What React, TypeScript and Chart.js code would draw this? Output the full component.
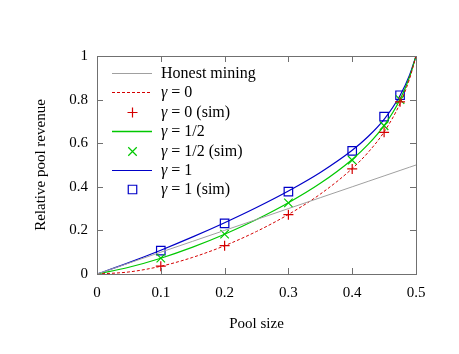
import React, { useEffect, useRef } from "react";
import { Chart, registerables } from "chart.js";

Chart.register(...registerables);

// Pool size (alpha) samples for the analytic curves
const alphaGrid = [0, 0.05, 0.1, 0.15, 0.2, 0.25, 0.3, 0.35, 0.4, 0.425, 0.45, 0.475, 0.49, 0.5];
const honestY = [0, 0.05, 0.1, 0.15, 0.2, 0.25, 0.3, 0.35, 0.4, 0.425, 0.45, 0.475, 0.49, 0.5];
const gamma0Y = [0, 0.0094, 0.0356, 0.0763, 0.1297, 0.1951, 0.2731, 0.3665, 0.4837, 0.558, 0.6518, 0.7825, 0.8963, 1];
const gammaHalfY = [0, 0.0309, 0.0724, 0.1232, 0.1824, 0.25, 0.3269, 0.416, 0.5256, 0.5943, 0.6806, 0.8006, 0.9049, 1];
const gamma1Y = [0, 0.0524, 0.1092, 0.1701, 0.2352, 0.3049, 0.3806, 0.4656, 0.5674, 0.6306, 0.7094, 0.8187, 0.9135, 1];

// Simulation points
const simX = [0.1, 0.2, 0.3, 0.4, 0.45, 0.475];
const simGamma0 = [0.036, 0.13, 0.272, 0.482, 0.65, 0.79];
const simGammaHalf = [0.073, 0.183, 0.326, 0.522, 0.68, 0.8];
const simGamma1 = [0.107, 0.232, 0.378, 0.565, 0.722, 0.82];

const xTicks = [0, 0.1, 0.2, 0.3, 0.4, 0.5];
const yTicks = [0, 0.2, 0.4, 0.6, 0.8, 1];

const RED = "#d40000";
const GREEN = "#00c800";
const BLUE = "#0000c8";
const GRAY = "#a0a0a0";
const FRAME = "#707070";
const FONT = "'Liberation Serif', 'Times New Roman', serif";

const legendItems = [
  { g: false, text: "Honest mining", kind: "line", color: GRAY, width: 1, dash: [] as number[] },
  { g: true, text: " = 0", kind: "line", color: RED, width: 1, dash: [3, 2] },
  { g: true, text: " = 0 (sim)", kind: "cross", color: RED, width: 1.2, dash: [] },
  { g: true, text: " = 1/2", kind: "line", color: GREEN, width: 1.4, dash: [] },
  { g: true, text: " = 1/2 (sim)", kind: "crossRot", color: GREEN, width: 1.2, dash: [] },
  { g: true, text: " = 1", kind: "line", color: BLUE, width: 1.2, dash: [] },
  { g: true, text: " = 1 (sim)", kind: "rect", color: BLUE, width: 1.2, dash: [] },
];

const pts = (xs: number[], ys: number[]) => xs.map((x, i) => ({ x, y: ys[i] }));

const framePlugin = {
  id: "frameTicks",
  afterDraw(chart: any) {
    const { ctx, chartArea: a, scales } = chart;
    ctx.save();
    ctx.strokeStyle = FRAME;
    ctx.lineWidth = 1;
    const L = 6;
    ctx.beginPath();
    for (const v of xTicks) {
      const x = Math.round(scales.x.getPixelForValue(v)) + 0.5;
      ctx.moveTo(x, a.bottom);
      ctx.lineTo(x, a.bottom - L);
      ctx.moveTo(x, a.top);
      ctx.lineTo(x, a.top + L);
    }
    for (const v of yTicks) {
      const y = Math.round(scales.y.getPixelForValue(v)) + 0.5;
      ctx.moveTo(a.left, y);
      ctx.lineTo(a.left + L, y);
      ctx.moveTo(a.right, y);
      ctx.lineTo(a.right - L, y);
    }
    ctx.stroke();
    ctx.strokeRect(Math.round(a.left) + 0.5, Math.round(a.top) + 0.5, Math.round(a.right - a.left), Math.round(a.bottom - a.top));
    ctx.restore();

    // legend
    const x0 = a.left + 15;
    const x1 = a.left + 55;
    const tx = a.left + 64;
    const y0 = a.top + 17;
    const step = 19.4;
    legendItems.forEach((it, i) => {
      const y = Math.round(y0 + i * step) + 0.5;
      ctx.save();
      ctx.strokeStyle = it.color;
      ctx.fillStyle = it.color;
      ctx.lineWidth = it.width;
      ctx.setLineDash(it.dash);
      const cx = Math.round((x0 + x1) / 2) + 0.5;
      ctx.beginPath();
      if (it.kind === "line") {
        ctx.moveTo(x0, y);
        ctx.lineTo(x1, y);
      } else if (it.kind === "cross") {
        const r = 5;
        ctx.moveTo(cx - r, y); ctx.lineTo(cx + r, y);
        ctx.moveTo(cx, y - r); ctx.lineTo(cx, y + r);
      } else if (it.kind === "crossRot") {
        const d = 6 * 0.7071;
        ctx.moveTo(cx - d, y - d); ctx.lineTo(cx + d, y + d);
        ctx.moveTo(cx - d, y + d); ctx.lineTo(cx + d, y - d);
      } else {
        const d = 6 * 0.7071;
        ctx.rect(cx - d, y - d, 2 * d, 2 * d);
      }
      ctx.stroke();
      ctx.restore();
      ctx.save();
      ctx.fillStyle = "#000";
      ctx.textBaseline = "middle";
      ctx.textAlign = "left";
      let x = tx;
      if (it.g) {
        ctx.font = `italic 16px ${FONT}`;
        ctx.fillText("\u03b3", x, y);
        x += ctx.measureText("\u03b3").width;
      }
      ctx.font = `16px ${FONT}`;
      ctx.fillText(it.text, x, y);
      ctx.restore();
    });
  },
};

export default function App() {
  const ref = useRef<HTMLCanvasElement>(null);
  useEffect(() => {
    if (!ref.current) return;
    const lineDs = (label: string, ys: number[], color: string, width: number, dash?: number[]) => ({
      label,
      data: pts(alphaGrid, ys),
      borderColor: color,
      backgroundColor: color,
      borderWidth: width,
      borderDash: dash || [],
      pointRadius: 0,
      showLine: true,
      fill: false,
      cubicInterpolationMode: "monotone" as const,
    });
    const simDs = (label: string, ys: number[], color: string, style: string, r: number) => ({
      label,
      data: pts(simX, ys),
      showLine: false,
      pointStyle: style,
      pointRadius: r,
      pointBorderColor: color,
      pointBackgroundColor: "rgba(0,0,0,0)",
      pointBorderWidth: 1.2,
      borderColor: color,
      backgroundColor: "rgba(0,0,0,0)",
    });
    const chart = new Chart(ref.current, {
      type: "line",
      data: {
        datasets: [
          lineDs("Honest mining", honestY, GRAY, 1),
          lineDs("gamma = 0", gamma0Y, RED, 1, [3, 2]),
          simDs("gamma = 0 (sim)", simGamma0, RED, "cross", 5),
          lineDs("gamma = 1/2", gammaHalfY, GREEN, 1.2),
          simDs("gamma = 1/2 (sim)", simGammaHalf, GREEN, "crossRot", 6),
          lineDs("gamma = 1", gamma1Y, BLUE, 1.2),
          simDs("gamma = 1 (sim)", simGamma1, BLUE, "rect", 6),
        ] as any,
      },
      options: {
        animation: false,
        responsive: false,
        layout: { padding: { top: 56, right: 43, left: 0, bottom: 0 } },
        plugins: { legend: { display: false }, tooltip: { enabled: false } },
        scales: {
          x: {
            type: "linear",
            min: 0,
            max: 0.5,
            afterFit: (s: any) => { s.height = 80; },
            afterBuildTicks: (s: any) => { s.ticks = xTicks.map((v) => ({ value: v })); },
            grid: { display: false, drawTicks: false, tickLength: 0 },
            border: { display: false },
            ticks: {
              padding: 10,
              color: "#000",
              font: { family: FONT, size: 15 },
              maxRotation: 0,
              callback: (v: any) => String(Number(Number(v).toFixed(1))),
            },
            title: {
              display: true,
              text: "Pool size",
              color: "#000",
              font: { family: FONT, size: 15 },
              padding: { top: 0, bottom: 21 },
            },
          },
          y: {
            type: "linear",
            min: 0,
            max: 1,
            afterFit: (s: any) => { s.width = 97; },
            afterBuildTicks: (s: any) => { s.ticks = yTicks.map((v) => ({ value: v })); },
            grid: { display: false, drawTicks: false, tickLength: 0 },
            border: { display: false },
            ticks: {
              padding: 9,
              color: "#000",
              font: { family: FONT, size: 15 },
              callback: (v: any) => String(Number(Number(v).toFixed(1))),
            },
            title: {
              display: true,
              text: "Relative pool revenue",
              color: "#000",
              font: { family: FONT, size: 15 },
              padding: { top: 32, bottom: 0 },
            },
          },
        },
      },
      plugins: [framePlugin],
    } as any);
    return () => chart.destroy();
  }, []);
  return (
    <div style={{ position: "fixed", left: 0, top: 0, width: 459, height: 354, background: "#fff" }}>
      <canvas ref={ref} width={459} height={354} />
    </div>
  );
}
